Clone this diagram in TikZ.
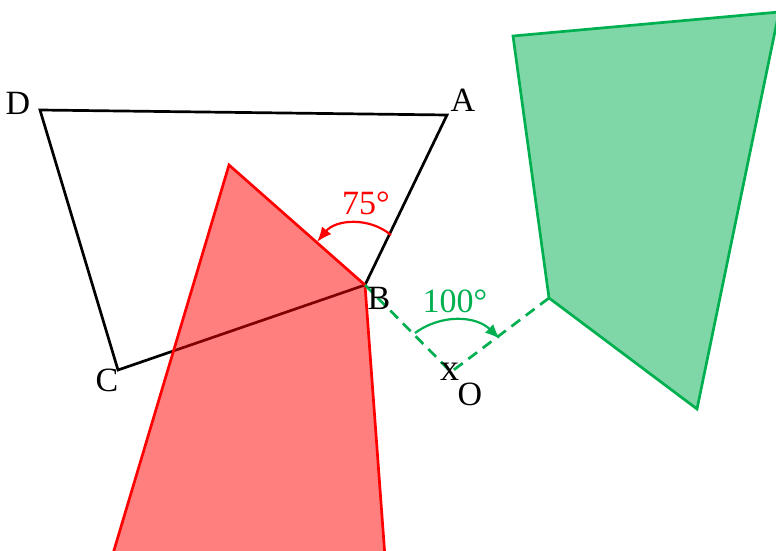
\documentclass[tikz,border=0pt]{standalone}
\usepackage{fontspec}
\setmainfont{Liberation Serif}
\usetikzlibrary{arrows.meta}
\definecolor{geogreen}{RGB}{0,176,80}

\begin{document}
\begin{tikzpicture}[x=1pt,y=-1pt,>={Latex[length=15pt,width=12pt]},
                    font=\fontsize{34}{40}\selectfont,
                    edge/.style={line width=2.7pt,line join=miter},
                    ray/.style={geogreen,line width=2.7pt,dash pattern=on 11pt off 7pt}]
  \useasboundingbox (0,0) rectangle (776,551);
  % quadrilateral ABCD
  \coordinate (A) at (447,115);
  \coordinate (B) at (365,285);
  \coordinate (C) at (118,370);
  \coordinate (D) at (40,110);
  % red image
  \coordinate (r1) at (229,165);
  \coordinate (r3) at (385,557);
  \coordinate (r4) at (112,557);
  % green image and centre
  \coordinate (O) at (451,372);
  \coordinate (g1) at (513,36);
  \coordinate (g2) at (779,12);
  \coordinate (g3) at (697,409);
  \coordinate (g4) at (549,298);
  \draw[edge] (D) -- (A) -- (B) -- (C) -- cycle;
  \draw[edge,draw=red,fill=red,fill opacity=0.5] (r1) -- (B) -- (r3) -- (r4) -- cycle;
  \draw[edge,draw=geogreen,fill=geogreen,fill opacity=0.5] (g1) -- (g2) -- (g3) -- (g4) -- cycle;
  \draw[ray] (B) -- (O) -- (g4);
  % angle arrows
  \coordinate (a1) at (391,235);
  \coordinate (a2) at (317,242);
  \coordinate (b1) at (415,333);
  \coordinate (b2) at (500,339);
  \draw[->,red,line width=2.2pt] (a1) to[bend right=45] (a2);
  \draw[->,geogreen,line width=2.2pt] (b1) to[bend left=40] (b2);
  \node[red] (l75) at (366,203) {75°};
  \node[geogreen] (l100) at (455,301) {100°};
  % vertex labels
  \node (lA) at (463,100) {A};
  \node (lB) at (379,298) {B};
  \node (lC) at (107,380) {C};
  \node (lD) at (18,103) {D};
  \node (lO) at (470,394) {O};
  \node[font=\fontsize{38}{40}\selectfont] (lx) at (450,372) {x};
\end{tikzpicture}
\end{document}
